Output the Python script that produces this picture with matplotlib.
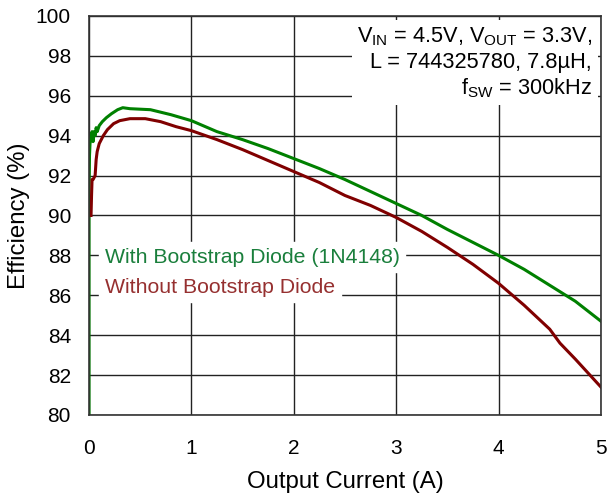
import numpy as np
import matplotlib.pyplot as plt

plt.rcParams['font.family'] = ['Liberation Sans', 'DejaVu Sans']
plt.rcParams['mathtext.fontset'] = 'custom'
plt.rcParams['mathtext.rm'] = 'Liberation Sans'

# Efficiency curves
i_with = [0.0, 0.0, 0.005, 0.01, 0.02, 0.03, 0.04, 0.05, 0.06, 0.07, 0.08, 0.1, 0.13, 0.17,
          0.22, 0.28, 0.33, 0.4, 0.6, 0.8, 1.0, 1.25, 1.5, 1.75, 2.0, 2.25, 2.5, 2.75, 3.0,
          3.25, 3.5, 3.75, 4.0, 4.25, 4.5, 4.75, 5.0]
eff_with = [80.0, 91.0, 93.0, 93.6, 93.9, 94.2, 93.7, 94.2, 94.0, 94.4, 94.2, 94.5, 94.7, 94.9,
            95.1, 95.3, 95.4, 95.35, 95.3, 95.05, 94.75, 94.2, 93.8, 93.35, 92.85, 92.35, 91.8,
            91.2, 90.6, 90.0, 89.3, 88.65, 88.0, 87.3, 86.5, 85.7, 84.7]

i_without = [0.02, 0.025, 0.03, 0.04, 0.05, 0.06, 0.07, 0.08, 0.1, 0.14, 0.18, 0.24, 0.3,
             0.4, 0.55, 0.7, 0.85, 1.0, 1.25, 1.5, 1.75, 2.0, 2.25, 2.5, 2.75, 3.0, 3.25,
             3.5, 3.75, 4.0, 4.25, 4.5, 4.6, 4.75, 5.0]
eff_without = [90.0, 91.0, 91.8, 91.8, 91.9, 92.0, 92.8, 93.2, 93.6, 94.0, 94.3, 94.6, 94.75,
               94.85, 94.85, 94.7, 94.45, 94.25, 93.8, 93.3, 92.75, 92.2, 91.65, 91.0, 90.5,
               89.9, 89.2, 88.4, 87.55, 86.6, 85.5, 84.3, 83.6, 82.8, 81.4]

green = '#008000'
red = '#800000'

fig = plt.figure(figsize=(6.07, 4.97), dpi=100)
ax = fig.add_axes([0.1466, 0.165, 0.8434, 0.803])

ax.plot(i_with, eff_with, color=green, lw=2.2)
ax.plot(i_without, eff_without, color=red, lw=2.2)

ax.set_xlim(0, 5)
ax.set_ylim(80, 100)
ax.set_xticks(np.arange(0, 6, 1))
ax.set_yticks(np.arange(80, 101, 2))
ax.grid(True, color='#222222', lw=1)
ax.tick_params(axis='y', length=0, labelsize=15, pad=13)
ax.tick_params(axis='x', length=0, labelsize=15, pad=17)
for s in ax.spines.values():
    s.set_color('#333333')
    s.set_linewidth(1.2)

ax.set_xlabel('Output Current (A)', fontsize=17.3, labelpad=10)
ax.set_ylabel('Efficiency (%)', fontsize=17.3, labelpad=4)

ax.text(0.155, 87.9, 'With Bootstrap Diode (1N4148)', color='#1a7f3c', fontsize=15.3,
        va='center', ha='left', backgroundcolor='white')
ax.text(0.155, 86.4, 'Without Bootstrap Diode', color='#963030', fontsize=15.3,
        va='center', ha='left', backgroundcolor='white')

info = ('V$_{\\mathregular{IN}}$ = 4.5V, V$_{\\mathregular{OUT}}$ = 3.3V,\n'
        'L = 744325780, 7.8\u00b5H,\n'
        'f$_{\\mathregular{SW}}$ = 300kHz')
ax.text(4.915, 99.5, info, ha='right', va='top', fontsize=15.7, linespacing=1.2,
        bbox=dict(facecolor='white', edgecolor='none', pad=4))

fig.savefig('out.png', dpi=100)
